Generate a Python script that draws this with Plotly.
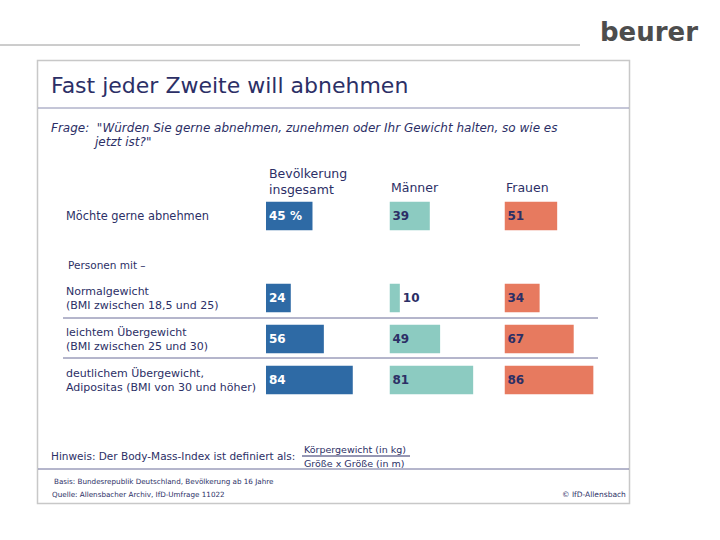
import plotly.graph_objects as go

# ---- data ----
rows = ["abnehmen", "spacer", "normal", "leicht", "deutlich"]
row_labels = ["Möchte gerne abnehmen", "Personen mit –",
              "Normalgewicht<br>(BMI zwischen 18,5 und 25)",
              "leichtem Übergewicht<br>(BMI zwischen 25 und 30)",
              "deutlichem Übergewicht,<br>Adipositas (BMI von 30 und höher)"]
bar_rows = ["abnehmen", "normal", "leicht", "deutlich"]
gesamt = [45, 24, 56, 84]
maenner = [39, 10, 49, 81]
frauen = [51, 34, 67, 86]
gesamt_text = ["45 %", "24", "56", "84"]
column_titles = ["Bevölkerung<br>insgesamt", "Männer", "Frauen"]

W, H = 720, 540
def px(x): return x / W
def py(y): return 1 - y / H

NAVY = "#2c2f66"
FONT = "DejaVu Sans"
BLUE = "#2e6aa5"
TEAL = "#8ccbc1"
SALMON = "#e77a5f"

fig = go.Figure()
cols = [("x", gesamt, gesamt_text, BLUE, "white"),
        ("x2", maenner, [str(v) for v in maenner], TEAL, NAVY),
        ("x3", frauen, [str(v) for v in frauen], SALMON, NAVY)]
for xa, vals, txt_, col, tcol in cols:
    pos = ["outside" if v < 15 else "inside" for v in vals]
    fig.add_trace(go.Bar(
        x=vals, y=bar_rows, orientation="h", xaxis=xa, yaxis="y",
        marker=dict(color=col, line=dict(width=0)), width=0.7,
        text=["<b>%s</b>" % t for t in txt_], textposition=pos, insidetextanchor="start",
        textfont=dict(family=FONT, size=12, color=tcol),
        insidetextfont=dict(family=FONT, size=12, color=tcol),
        outsidetextfont=dict(family=FONT, size=12, color=NAVY),
        cliponaxis=False, hoverinfo="skip", showlegend=False))

scale = 1.033  # px per unit
starts = [266, 389.5, 504.5]
axcommon = dict(range=[0, 100], visible=False, showgrid=False, zeroline=False, fixedrange=True)
top, bottom = 195.5, 400.5
fig.update_layout(
    width=W, height=H, margin=dict(l=0, r=0, t=0, b=0),
    paper_bgcolor="white", plot_bgcolor="rgba(0,0,0,0)",
    xaxis=dict(domain=[px(starts[0]), px(starts[0] + 100 * scale)], anchor="y", **axcommon),
    xaxis2=dict(domain=[px(starts[1]), px(starts[1] + 100 * scale)], anchor="y", **axcommon),
    xaxis3=dict(domain=[px(starts[2]), px(starts[2] + 100 * scale)], anchor="y", **axcommon),
    yaxis=dict(domain=[py(bottom), py(top)], type="category", categoryorder="array",
               categoryarray=rows, range=[4.5, -0.5], visible=False, fixedrange=True),
    bargap=0.3, font=dict(family=FONT, color=NAVY),
)

shapes = []
shapes.append(dict(type="line", xref="paper", yref="paper", x0=0, x1=px(580), y0=py(45), y1=py(45),
                   line=dict(color="#9a9a9a", width=1)))
shapes.append(dict(type="rect", xref="paper", yref="paper", x0=px(37.5), x1=px(629.5), y0=py(503.5), y1=py(60.5),
                   line=dict(color="#c8c8c8", width=1.5)))
shapes.append(dict(type="line", xref="paper", yref="paper", x0=px(38), x1=px(629), y0=py(108), y1=py(108),
                   line=dict(color="#8a8db0", width=1)))
for yy in [318, 358]:
    shapes.append(dict(type="line", xref="paper", yref="paper", x0=px(63), x1=px(598), y0=py(yy), y1=py(yy),
                       line=dict(color="#6a6d98", width=1)))
shapes.append(dict(type="line", xref="paper", yref="paper", x0=px(38), x1=px(629), y0=py(469), y1=py(469),
                   line=dict(color="#6a6d98", width=1)))
shapes.append(dict(type="line", xref="paper", yref="paper", x0=px(302), x1=px(410), y0=py(456), y1=py(456),
                   line=dict(color=NAVY, width=1)))
fig.update_layout(shapes=shapes)

ann = []
def txt(x, y, s, size, color=NAVY, xanchor="left", family=FONT, yanchor="middle"):
    ann.append(dict(x=px(x), y=py(y), xref="paper", yref="paper", text=s, showarrow=False,
                    xanchor=xanchor, yanchor=yanchor, align="left",
                    font=dict(family=family, size=size, color=color)))

txt(700, 32, "<b>beurer</b>", 26, color="#4d4d4d", xanchor="right")
txt(49, 85, "Fast jeder Zweite will abnehmen", 22)
txt(49, 128, "<i>Frage:  \"Würden Sie gerne abnehmen, zunehmen oder Ihr Gewicht halten, so wie es</i>", 12)
txt(91, 142, "<i>jetzt ist?\"</i>", 12)
txt(267, 181, column_titles[0], 12.5)
txt(389, 188, column_titles[1], 12.5)
txt(504, 188, column_titles[2], 12.5)
for r, lab in zip(rows, row_labels):
    ann.append(dict(x=px(64 if r != "spacer" else 66), y=r, xref="paper", yref="y", text=lab,
                    showarrow=False, xanchor="left", yanchor="middle", align="left",
                    yshift=(-8 if r == "spacer" else 0),
                    font=dict(family=FONT, size=(11.4 if r == "abnehmen" else 11) if r != "spacer" else 10.5,
                              color=NAVY)))
txt(49, 456, "Hinweis: Der Body-Mass-Index ist definiert als:", 10.5)
txt(302, 449, "Körpergewicht (in kg)", 9.5)
txt(302, 463, "Größe x Größe (in m)", 9.5)
txt(52, 481, "Basis: Bundesrepublik Deutschland, Bevölkerung ab 16 Jahre", 7.2)
txt(50, 494, "Quelle: Allensbacher Archiv, IfD-Umfrage 11022", 7.2)
txt(628, 494, "© IfD-Allensbach", 7.5, xanchor="right")
fig.update_layout(annotations=ann)

fig.write_html("out.html")
